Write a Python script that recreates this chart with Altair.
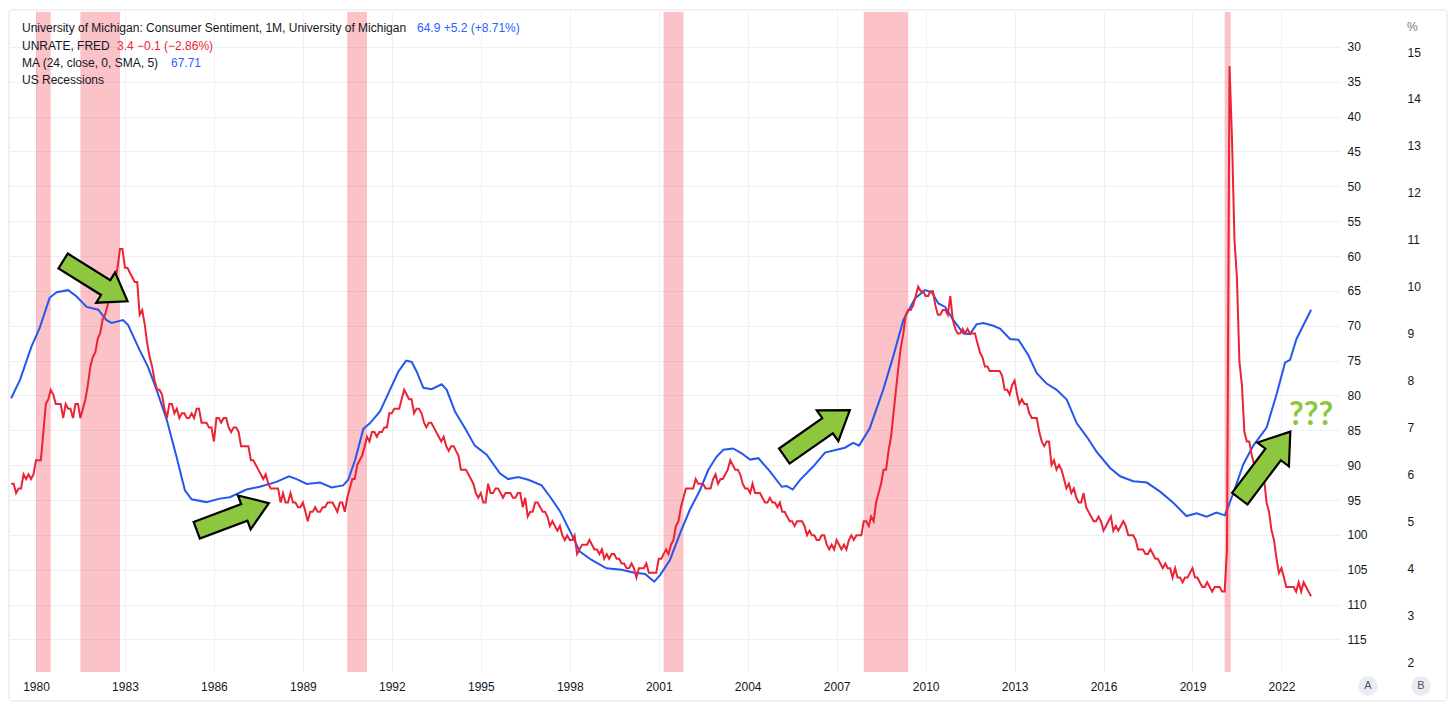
import altair as alt
import pandas as pd

# ---------------- data ----------------
# UNRATE (FRED), monthly, Mar 1979 - Jan 2023
u_1979 = [5.8, 5.8, 5.6, 5.7, 5.7, 6.0, 5.9, 6.0, 5.9, 6.0]
u_1980s = [
    6.3, 6.3, 6.3, 6.9, 7.5, 7.6, 7.8, 7.7, 7.5, 7.5, 7.5, 7.2,
    7.5, 7.4, 7.4, 7.2, 7.5, 7.5, 7.2, 7.4, 7.6, 7.9, 8.3, 8.5,
    8.6, 8.9, 9.0, 9.3, 9.4, 9.6, 9.8, 9.8, 10.1, 10.4, 10.8, 10.8,
    10.4, 10.4, 10.3, 10.2, 10.1, 10.1, 9.4, 9.5, 9.2, 8.8, 8.5, 8.3,
    8.0, 7.8, 7.8, 7.7, 7.4, 7.2, 7.5, 7.5, 7.3, 7.4, 7.2, 7.3,
    7.3, 7.2, 7.2, 7.3, 7.2, 7.4, 7.4, 7.1, 7.1, 7.1, 7.0, 7.0,
    6.7, 7.2, 7.2, 7.1, 7.2, 7.2, 7.0, 6.9, 7.0, 7.0, 6.9, 6.6,
    6.6, 6.6, 6.6, 6.3, 6.3, 6.2, 6.1, 6.0, 5.9, 6.0, 5.8, 5.7,
    5.7, 5.7, 5.7, 5.4, 5.6, 5.4, 5.4, 5.6, 5.4, 5.4, 5.3, 5.3,
    5.4, 5.2, 5.0, 5.2, 5.2, 5.3, 5.2, 5.2, 5.3, 5.3, 5.4, 5.4,
]
u_1990s = [
    5.4, 5.3, 5.2, 5.4, 5.4, 5.2, 5.5, 5.7, 5.9, 5.9, 6.2, 6.3,
    6.4, 6.6, 6.8, 6.7, 6.9, 6.9, 6.8, 6.9, 6.9, 7.0, 7.0, 7.3,
    7.3, 7.4, 7.4, 7.4, 7.6, 7.8, 7.7, 7.6, 7.6, 7.3, 7.4, 7.4,
    7.3, 7.1, 7.0, 7.1, 7.1, 7.0, 6.9, 6.8, 6.7, 6.8, 6.6, 6.5,
    6.6, 6.6, 6.5, 6.4, 6.1, 6.1, 6.1, 6.0, 5.9, 5.8, 5.6, 5.5,
    5.6, 5.4, 5.4, 5.8, 5.6, 5.6, 5.7, 5.7, 5.6, 5.5, 5.6, 5.6,
    5.6, 5.5, 5.5, 5.6, 5.6, 5.3, 5.5, 5.1, 5.2, 5.2, 5.4, 5.4,
    5.3, 5.2, 5.2, 5.1, 4.9, 5.0, 4.9, 4.8, 4.9, 4.7, 4.6, 4.7,
    4.6, 4.6, 4.7, 4.3, 4.4, 4.5, 4.5, 4.5, 4.6, 4.5, 4.4, 4.4,
    4.3, 4.4, 4.2, 4.3, 4.2, 4.3, 4.3, 4.2, 4.2, 4.1, 4.1, 4.0,
]
u_2000s = [
    4.0, 4.1, 4.0, 3.8, 4.0, 4.0, 4.0, 4.1, 3.9, 3.9, 3.9, 3.9,
    4.2, 4.2, 4.3, 4.4, 4.3, 4.5, 4.6, 4.9, 5.0, 5.3, 5.5, 5.7,
    5.7, 5.7, 5.7, 5.9, 5.8, 5.8, 5.8, 5.7, 5.7, 5.7, 5.9, 6.0,
    5.8, 5.9, 5.9, 6.0, 6.1, 6.3, 6.2, 6.1, 6.1, 6.0, 5.8, 5.7,
    5.7, 5.6, 5.8, 5.6, 5.6, 5.6, 5.5, 5.4, 5.4, 5.5, 5.4, 5.4,
    5.3, 5.4, 5.2, 5.2, 5.1, 5.0, 5.0, 4.9, 5.0, 5.0, 5.0, 4.9,
    4.7, 4.8, 4.7, 4.7, 4.6, 4.6, 4.7, 4.7, 4.5, 4.4, 4.5, 4.4,
    4.6, 4.5, 4.4, 4.5, 4.4, 4.6, 4.7, 4.6, 4.7, 4.7, 4.7, 5.0,
    5.0, 4.9, 5.1, 5.0, 5.4, 5.6, 5.8, 6.1, 6.1, 6.5, 6.8, 7.3,
    7.8, 8.3, 8.7, 9.0, 9.4, 9.5, 9.5, 9.6, 9.8, 10.0, 9.9, 9.9,
]
u_2010s = [
    9.8, 9.8, 9.9, 9.9, 9.6, 9.4, 9.4, 9.5, 9.5, 9.4, 9.8, 9.3,
    9.1, 9.0, 9.0, 9.1, 9.0, 9.1, 9.0, 9.0, 9.0, 8.8, 8.6, 8.5,
    8.3, 8.3, 8.2, 8.2, 8.2, 8.2, 8.2, 8.1, 7.8, 7.8, 7.7, 7.9,
    8.0, 7.7, 7.5, 7.6, 7.5, 7.5, 7.3, 7.2, 7.2, 7.2, 6.9, 6.7,
    6.6, 6.7, 6.7, 6.2, 6.3, 6.1, 6.2, 6.1, 5.9, 5.7, 5.8, 5.6,
    5.7, 5.5, 5.4, 5.4, 5.6, 5.3, 5.2, 5.1, 5.0, 5.0, 5.1, 5.0,
    4.8, 4.9, 5.0, 5.1, 4.8, 4.9, 4.8, 4.9, 5.0, 4.9, 4.7, 4.7,
    4.7, 4.6, 4.4, 4.4, 4.4, 4.3, 4.3, 4.4, 4.3, 4.2, 4.2, 4.1,
    4.0, 4.1, 4.0, 4.0, 3.8, 4.0, 3.8, 3.8, 3.7, 3.8, 3.8, 3.9,
    4.0, 3.8, 3.8, 3.7, 3.6, 3.6, 3.7, 3.6, 3.5, 3.6, 3.6, 3.6,
]
u_2020s = [
    3.5, 3.5, 4.4, 14.7, 13.2, 11.0, 10.2, 8.4, 7.9, 6.9, 6.7, 6.7,
    6.4, 6.2, 6.1, 6.1, 5.8, 5.9, 5.4, 5.2, 4.8, 4.6, 4.2, 3.9,
    4.0, 3.8, 3.6, 3.6, 3.6, 3.6, 3.5, 3.7, 3.5, 3.7, 3.6, 3.5,
    3.4,
]
unrate = u_1979 + u_1980s + u_1990s + u_2000s + u_2010s + u_2020s
unrate_dates = pd.date_range("1979-03-01", periods=len(unrate), freq="MS").strftime("%Y-%m-%d")

# 24-month SMA of UMich sentiment
ma_dates = [
    "1979-03-01", "1979-06-17", "1979-11-06", "1980-02-16", "1980-06-17", "1980-09-12",
    "1981-02-02", "1981-05-15", "1981-09-16", "1982-02-06", "1982-05-19", "1982-07-20",
    "1982-12-09", "1983-02-09", "1983-07-01", "1983-10-12", "1984-01-26", "1984-05-30",
    "1984-09-27", "1985-01-08", "1985-04-01", "1985-10-01", "1986-03-14", "1986-07-16",
    "1987-02-06", "1987-07-20", "1988-02-10", "1988-07-12", "1988-10-16", "1989-02-17",
    "1989-07-31", "1989-12-20", "1990-05-12", "1990-07-13", "1990-10-05", "1991-01-15",
    "1991-04-05", "1991-08-08", "1991-12-09", "1992-03-21", "1992-06-25", "1992-09-02",
    "1992-11-03", "1993-01-23", "1993-05-05", "1993-09-06", "1993-11-07", "1994-02-17",
    "1994-06-21", "1994-10-19", "1995-03-14", "1995-08-26", "1995-12-05", "1996-04-05",
    "1996-08-08", "1997-01-19", "1997-05-01", "1997-09-02", "1998-01-05", "1998-05-05",
    "1998-09-27", "1999-03-29", "1999-10-01", "2000-02-21", "2000-07-16", "2000-11-06",
    "2001-01-15", "2001-05-19", "2001-09-20", "2002-01-19", "2002-05-23", "2002-09-02",
    "2002-12-13", "2003-03-08", "2003-07-05", "2003-10-19", "2004-01-30", "2004-05-12",
    "2004-10-01", "2005-02-24", "2005-04-27", "2005-07-09", "2005-10-08", "2006-03-18",
    "2006-08-11", "2007-01-01", "2007-04-13", "2007-07-24", "2007-10-05", "2008-02-13",
    "2008-07-27", "2008-11-28", "2009-04-01", "2009-08-22", "2009-12-24", "2010-03-18",
    "2010-06-07", "2010-08-29", "2010-12-10", "2011-04-09", "2011-07-02", "2011-09-20",
    "2011-12-13", "2012-04-13", "2012-07-05", "2012-11-06", "2013-02-17", "2013-06-18",
    "2013-10-01", "2014-01-30", "2014-06-03", "2014-10-05", "2015-02-06", "2015-06-07",
    "2015-10-09", "2016-03-22", "2016-07-24", "2017-01-01", "2017-06-18", "2017-11-28",
    "2018-05-09", "2018-10-19", "2019-02-21", "2019-06-25", "2019-10-23", "2020-02-03",
    "2020-05-16", "2020-09-17", "2021-01-19", "2021-07-02", "2021-11-03", "2022-02-14",
    "2022-04-17", "2022-07-05", "2023-01-01",
]
ma_values = [
    80.4, 77.8, 73.0, 70.3, 66.0, 65.2,
    64.9, 65.8, 67.3, 67.7, 69.2, 69.6,
    69.2, 69.9, 73.5, 75.9, 79.2, 83.5,
    88.8, 93.6, 94.9, 95.3, 94.8, 94.6,
    93.5, 93.1, 92.4, 91.6, 92.0, 92.7,
    92.5, 93.2, 92.9, 92.1, 89.3, 84.8,
    84.0, 82.3, 79.2, 76.6, 75.0, 75.2,
    76.6, 78.9, 79.1, 78.4, 79.2, 82.3,
    84.7, 87.2, 88.5, 91.2, 92.0, 91.7,
    92.1, 92.9, 94.5, 96.6, 99.5, 102.4,
    103.6, 104.8, 105.0, 105.4, 105.6, 106.7,
    105.8, 103.6, 99.8, 96.4, 93.6, 90.7,
    88.8, 87.8, 87.6, 88.3, 89.2, 89.0,
    90.9, 93.1, 93.0, 93.5, 92.1, 90.2,
    88.2, 87.8, 87.5, 86.8, 87.2, 84.7,
    79.2, 74.4, 69.2, 66.1, 64.9, 65.2,
    66.8, 67.3, 69.2, 71.1, 71.2, 69.8,
    69.6, 70.0, 70.4, 71.9, 72.0, 74.2,
    76.8, 78.3, 79.2, 80.6, 84.0, 85.9,
    88.1, 90.4, 91.6, 92.3, 92.5, 93.8,
    95.4, 97.3, 96.9, 97.4, 96.8, 97.2,
    94.1, 89.9, 87.2, 84.6, 79.8, 75.3,
    74.9, 71.9, 67.71,
]

# US recessions
rec_start = ["1980-01-01", "1981-07-01", "1990-07-01", "2001-03-01", "2007-12-01", "2020-02-01"]
rec_end = ["1980-07-01", "1982-11-01", "1991-03-01", "2001-11-01", "2009-06-01", "2020-04-15"]

# hand-drawn annotation arrows (placed in date / sentiment coordinates)
arrow_dates = ["1982-01-01", "1986-08-21", "2006-05-05", "2021-06-13"]
arrow_sent = [63.6, 97.4, 85.4, 90.0]
arrow_angle = [32, 339.4, 325, 307]
arrow_len = [76, 77, 80, 84]
q_date = ["2023-01-01"]
q_sent = [82.8]
q_text = ["???"]

# ---------------- styling ----------------
FONT = "Liberation Sans"
BLUE = "#2962ff"
BLUE_LINE = "#2357ee"
RED = "#eb2335"
GREEN = "#8dc63f"
TEXT = "#131722"
GRID = "#eef0f4"
W, H = 1330, 660

xscale = alt.Scale(
    type="utc",
    domain=[alt.DateTime(year=1979, month=2, date=15, utc=True),
            alt.DateTime(year=2023, month=12, date=23, utc=True)],
)
xaxis = alt.Axis(
    values=[alt.DateTime(year=y, month=1, date=1, utc=True) for y in range(1980, 2023, 3)],
    format="%Y", grid=True, labelPadding=9, title=None,
)


def xenc(field):
    return alt.X(f"{field}:T", scale=xscale, axis=xaxis, title=None)


sent_scale = alt.Scale(domain=[25, 119.67], reverse=True, nice=False, zero=False)
sent_axis = alt.Axis(orient="right", values=list(range(30, 120, 5)), grid=True,
                     labelPadding=7, title=None)
pct_scale = alt.Scale(domain=[1.787, 15.853], nice=False, zero=False)
pct_axis = alt.Axis(orient="right", values=list(range(2, 16)), grid=False,
                    offset=60, labelPadding=7, title=None)

one = pd.DataFrame({"k": [0]})

rec_df = pd.DataFrame({"start": rec_start, "end": rec_end})
ma_df = pd.DataFrame({"date": ma_dates, "s": ma_values})
un_df = pd.DataFrame({"date": unrate_dates, "u": unrate})
arrow_df = pd.DataFrame({"date": arrow_dates, "s": arrow_sent, "ang": arrow_angle,
                         "sz": [v * v for v in arrow_len]})
q_df = pd.DataFrame({"date": q_date, "s": q_sent, "t": q_text})

frame = alt.Chart(one).mark_rect(fillOpacity=0, stroke="#e0e3eb", strokeWidth=1, cornerRadius=3).encode(
    x=alt.value(-1), x2=alt.value(1437), y=alt.value(-2), y2=alt.value(689))

rec = alt.Chart(rec_df).mark_rect(color="#f23645", opacity=0.3).encode(
    x=xenc("start"), x2=alt.X2("end:T"))

blue = alt.Chart(ma_df).mark_line(color=BLUE_LINE, strokeWidth=2).encode(
    x=xenc("date"), y=alt.Y("s:Q", scale=sent_scale, axis=sent_axis, title=None))

red = alt.Chart(un_df).mark_line(color=RED, strokeWidth=2).encode(
    x=xenc("date"), y=alt.Y("u:Q", scale=pct_scale, axis=pct_axis, title=None))

ARROW = "M-1,-0.23L0.32,-0.23L0.32,-0.47L1,0L0.32,0.47L0.32,0.23L-1,0.23Z"
arrows = alt.Chart(arrow_df).mark_point(
    shape=ARROW, filled=True, fill=GREEN, stroke="#000000", strokeWidth=2.2,
    opacity=1, fillOpacity=1, strokeOpacity=1,
).encode(
    x=xenc("date"),
    y=alt.Y("s:Q", scale=sent_scale, axis=None),
    angle=alt.Angle("ang:Q", scale=None),
    size=alt.Size("sz:Q", scale=None),
)

qmarks = alt.Chart(q_df).mark_text(font="Lato", fontWeight="bold", fontSize=32, color=GREEN,
                                   align="center", baseline="middle").encode(
    x=xenc("date"), y=alt.Y("s:Q", scale=sent_scale, axis=None), text="t:N")


def label(txt, x, y, color=TEXT, size=12):
    return alt.Chart(one).mark_text(text=txt, font=FONT, fontSize=size, color=color,
                                    align="left", baseline="middle").encode(
        x=alt.value(x), y=alt.value(y))


legend = [
    label("University of Michigan: Consumer Sentiment, 1M, University of Michigan", 12, 16),
    label("64.9  +5.2 (+8.71%)", 407, 16, BLUE),
    label("UNRATE, FRED", 12, 33.5),
    label("3.4  \u22120.1 (\u22122.86%)", 107, 33.5, RED),
    label("MA (24, close, 0, SMA, 5)", 12, 50.5),
    label("67.71", 161, 50.5, BLUE),
    label("US Recessions", 12, 67.5),
    label("%", 1397, 15, "#787b86"),
]

buttons = alt.Chart(one).mark_point(filled=True, color="#e9ecf2", size=380, opacity=1).encode(
    x=alt.value(1358), y=alt.value(674))
buttons2 = alt.Chart(one).mark_point(filled=True, color="#e9ecf2", size=380, opacity=1).encode(
    x=alt.value(1411), y=alt.value(674))
btn_a = alt.Chart(one).mark_text(text="A", font=FONT, fontSize=11, color="#50535e",
                                 align="center", baseline="middle").encode(
    x=alt.value(1358), y=alt.value(674))
btn_b = alt.Chart(one).mark_text(text="B", font=FONT, fontSize=11, color="#50535e",
                                 align="center", baseline="middle").encode(
    x=alt.value(1411), y=alt.value(674))

sent_layer = alt.layer(frame, rec, blue)
annot = alt.layer(arrows, qmarks, *legend, buttons, buttons2, btn_a, btn_b)

chart = alt.layer(sent_layer, red, annot).resolve_scale(y="independent").properties(
    width=W, height=H,
    padding={"left": 10, "top": 12, "right": 116, "bottom": 37},
    autosize=alt.AutoSizeParams(type="none"),
    background="white",
).configure_view(stroke=None).configure_axis(
    labelFont=FONT, labelFontSize=12, labelColor=TEXT, gridColor=GRID,
    gridWidth=1, domain=False, ticks=False,
)

chart.save("out.html", embed_options={"renderer": "svg", "actions": False})
